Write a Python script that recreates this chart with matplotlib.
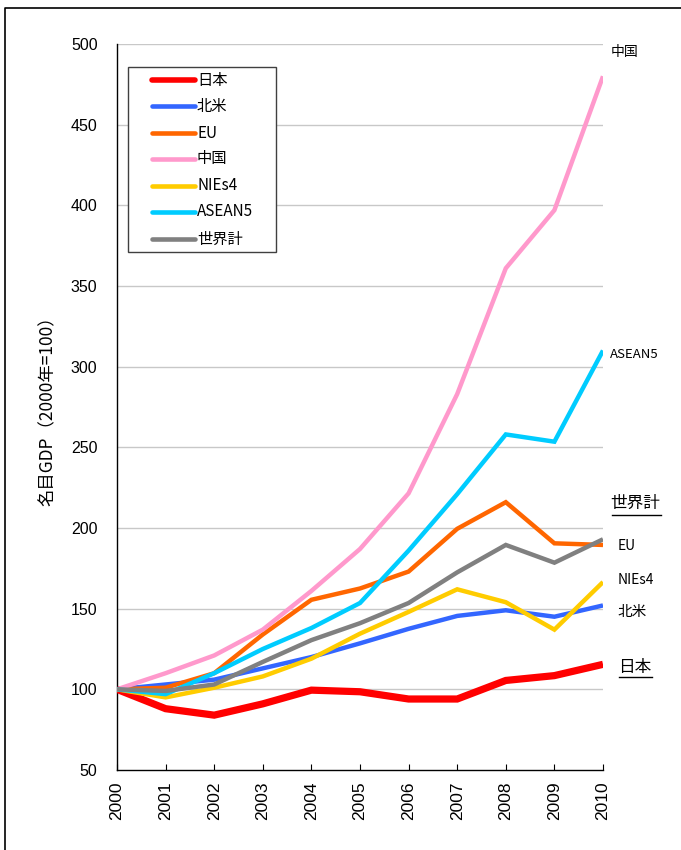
import matplotlib
matplotlib.use("Agg")
import matplotlib.pyplot as plt
from matplotlib.lines import Line2D
from matplotlib.patches import Rectangle

plt.rcParams['font.family'] = ['Noto Sans CJK JP', 'DejaVu Sans']

years = [2000, 2001, 2002, 2003, 2004, 2005, 2006, 2007, 2008, 2009, 2010]
japan = [100, 88, 84, 91, 99.5, 98.5, 94, 94, 105.5, 108.5, 115.5]
north_america = [100, 103, 106, 113, 120, 128.5, 137.5, 145.5, 149, 145, 152]
eu = [100, 101, 110, 134, 155.5, 162.5, 173, 199.5, 216, 190.5, 189.5]
china = [100, 110, 121, 137, 161, 187, 221.5, 283, 361, 397, 480]
nies4 = [100, 95, 101, 108, 119, 134.5, 148, 162, 154, 137, 166.5]
asean5 = [100, 97, 110, 125, 138, 153.5, 186, 221, 258, 253.5, 310]
world = [100, 99, 103, 117, 130.5, 141, 153.5, 172.5, 189.5, 178.5, 193]

series_names = ['日本', '北米', 'EU', '中国', 'NIEs4', 'ASEAN5', '世界計']
series_values = [japan, north_america, eu, china, nies4, asean5, world]
colors = ['#FF0000', '#3366FF', '#FF6600', '#FF99CC', '#FFCC00', '#00CCFF', '#808080']
widths = [5.2, 3.2, 3.2, 3.2, 3.2, 3.2, 3.2]

yticks = [50, 100, 150, 200, 250, 300, 350, 400, 450, 500]
ylabel = '名目GDP（2000年=100）'

W, H = 681, 850
fig = plt.figure(figsize=(W/100, H/100), dpi=100)
ax = fig.add_axes([117/W, 1-770/H, (603-117)/W, (770-44)/H])

for name, vals, c, w in zip(series_names, series_values, colors, widths):
    ax.plot(years, vals, color=c, lw=w, label=name, solid_capstyle='butt', solid_joinstyle='miter', zorder=3)

ax.set_xlim(2000, 2010)
ax.set_ylim(50, 500)
ax.set_yticks(yticks)
ax.set_yticklabels([str(v) for v in yticks], fontsize=11.5, family=['Liberation Sans', 'DejaVu Sans'])
ax.set_xticks(years)
ax.set_xticklabels([str(y) for y in years], rotation=90, fontsize=12.5, family=['Liberation Sans', 'DejaVu Sans'])
ax.tick_params(axis='y', length=0, pad=14)
ax.tick_params(axis='x', direction='in', length=4, width=0.8, pad=8, top=False)
for yv in yticks[1:]:
    ax.axhline(yv, color='#c8c8c8', lw=1, zorder=1)
for s in ['top', 'right']:
    ax.spines[s].set_visible(False)
ax.spines['left'].set_linewidth(1)
ax.spines['bottom'].set_linewidth(1)
ax.set_ylabel(ylabel, fontsize=12.5, labelpad=10)

# legend (drawn in figure pixel coordinates)
def fx(x):
    return x / W

def fy(y):
    return 1 - y / H

fig.add_artist(Rectangle((fx(128), fy(252)), fx(276) - fx(128), fy(67) - fy(252),
                         facecolor='white', edgecolor='#404040', lw=1, zorder=5))
row_y = [80, 106, 133, 159, 186, 212, 239]
for i, (name, c) in enumerate(zip(series_names, colors)):
    yy = fy(row_y[i])
    fig.add_artist(Line2D([fx(152), fx(195)], [yy, yy], color=c, lw=4 if i == 0 else 3.3,
                          solid_capstyle='round', zorder=6))
    fig.text(fx(197), yy, name, fontsize=11, va='center', ha='left', zorder=7)

# right-side labels
lab_kw = dict(transform=ax.transData, clip_on=False, va='center', ha='left')
ax.text(2010.15, 495, '中国', fontsize=10, **lab_kw)
ax.text(2010.15, 307.5, 'ASEAN5', fontsize=9.5, **lab_kw)
ax.text(2010.15, 215.5, '世界計', fontsize=12, **lab_kw)
ax.text(2010.3, 189, 'EU', fontsize=10, **lab_kw)
ax.text(2010.3, 168, 'NIEs4', fontsize=10, **lab_kw)
ax.text(2010.3, 148, '北米', fontsize=10.5, **lab_kw)
ax.text(2010.3, 113.5, '日本', fontsize=12, **lab_kw)
# underlines
fig.add_artist(Line2D([fx(612), fx(661)], [fy(515), fy(515)], color='black', lw=1))
fig.add_artist(Line2D([fx(619), fx(652)], [fy(677), fy(677)], color='black', lw=1))

# outer frame (left and top visible)
fig.add_artist(Line2D([fx(5), fx(5), 1.0], [0.0, fy(8), fy(8)], color='black', lw=1.2))

fig.savefig('out.png', dpi=100)
